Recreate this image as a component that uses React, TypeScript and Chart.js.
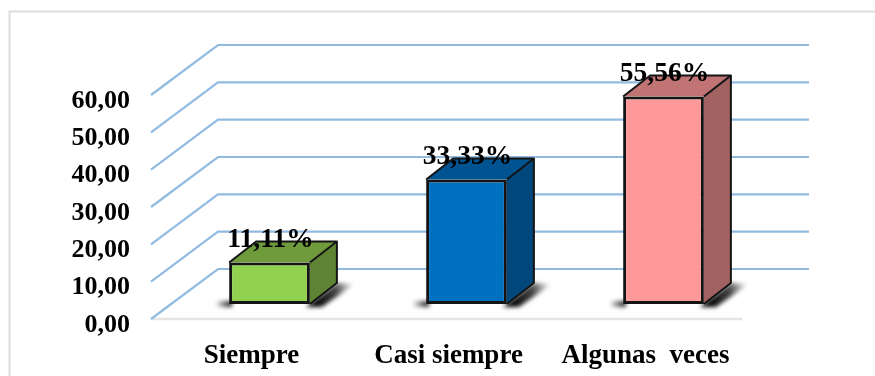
import { useEffect, useRef } from "react";
import { Chart, registerables } from "chart.js";

Chart.register(...registerables);

const categories = ["Siempre", "Casi siempre", "Algunas  veces"];
const shares = [11.11, 33.33, 55.56];
const frontColors = ["#92D050", "#0070C0", "#FF9999"];
const topColors = ["#6F9B3D", "#005391", "#C07474"];
const sideColors = ["#5E8433", "#00477C", "#A36262"];

const decimalComma = (v: number) => v.toFixed(2).replace(".", ",");

// Offsets of the pseudo-3D box: bars stand part way into the floor.
const FLOOR_FRONT = { dx: -20, dy: 15 };
const FLOOR_DEPTH = { dx: 67, dy: -50 };
const BAR_DEPTH = { dx: 27, dy: -21 };
const SERIF = "'Liberation Serif', serif";

const framePlugin = {
  id: "frame",
  beforeDraw(chart: any) {
    const { ctx, width, height } = chart;
    ctx.save();
    ctx.fillStyle = "#ffffff";
    ctx.fillRect(0, 0, width, height);
    ctx.strokeStyle = "#dcdcdc";
    ctx.lineWidth = 2;
    ctx.beginPath();
    ctx.moveTo(9.5, height);
    ctx.lineTo(9.5, 11.5);
    ctx.lineTo(width, 11.5);
    ctx.stroke();
    ctx.restore();
  },
};

const box3dPlugin = {
  id: "box3d",
  beforeDatasetsDraw(chart: any) {
    const { ctx, scales, chartArea } = chart;
    const y = scales.y;
    const frontLeft = chartArea.left + FLOOR_FRONT.dx;
    const frontRight = chartArea.right + FLOOR_FRONT.dx;
    ctx.save();

    // Floor edge
    const floorY = y.getPixelForValue(0) + FLOOR_FRONT.dy;
    ctx.strokeStyle = "#e4e4e4";
    ctx.lineWidth = 2.5;
    ctx.beginPath();
    ctx.moveTo(frontLeft, floorY);
    ctx.lineTo(frontRight, floorY);
    ctx.stroke();

    // Gridlines: diagonal on the side wall, horizontal on the back wall
    ctx.strokeStyle = "#92BBE2";
    ctx.lineWidth = 2.2;
    ctx.lineJoin = "miter";
    for (const tick of y.ticks) {
      const py = y.getPixelForValue(tick.value) + FLOOR_FRONT.dy;
      ctx.beginPath();
      ctx.moveTo(frontLeft, py);
      ctx.lineTo(frontLeft + FLOOR_DEPTH.dx, py + FLOOR_DEPTH.dy);
      ctx.lineTo(frontRight + FLOOR_DEPTH.dx, py + FLOOR_DEPTH.dy);
      ctx.stroke();
    }

    // Bar shadows and the two receding faces
    const bars = chart.getDatasetMeta(0).data;
    bars.forEach((bar: any, i: number) => {
      const left = bar.x - bar.width / 2;
      const right = bar.x + bar.width / 2;
      const top = bar.y;
      const base = bar.base;

      ctx.save();
      ctx.filter = "blur(2px)";
      const grad = ctx.createLinearGradient(right + 4, base, right + BAR_DEPTH.dx + 18, base - 8);
      grad.addColorStop(0, "rgba(0,0,0,1)");
      grad.addColorStop(0.55, "rgba(0,0,0,0.75)");
      grad.addColorStop(1, "rgba(0,0,0,0.03)");
      ctx.fillStyle = grad;
      ctx.beginPath();
      ctx.moveTo(right - 4, base + 3);
      ctx.lineTo(right + 12, base + 3);
      ctx.lineTo(right + BAR_DEPTH.dx + 18, base + BAR_DEPTH.dy + 1);
      ctx.lineTo(right + BAR_DEPTH.dx, base + BAR_DEPTH.dy);
      ctx.closePath();
      ctx.fill();
      const gradL = ctx.createLinearGradient(left - 14, base, left, base);
      gradL.addColorStop(0, "rgba(0,0,0,0)");
      gradL.addColorStop(1, "rgba(0,0,0,0.8)");
      ctx.fillStyle = gradL;
      ctx.fillRect(left - 13, base - 3, 16, 6);
      ctx.restore();

      ctx.strokeStyle = "#141414";
      ctx.lineWidth = 2;
      ctx.lineJoin = "round";

      ctx.fillStyle = topColors[i];
      ctx.beginPath();
      ctx.moveTo(left, top);
      ctx.lineTo(left + BAR_DEPTH.dx, top + BAR_DEPTH.dy);
      ctx.lineTo(right + BAR_DEPTH.dx, top + BAR_DEPTH.dy);
      ctx.lineTo(right, top);
      ctx.closePath();
      ctx.fill();

      ctx.fillStyle = sideColors[i];
      ctx.beginPath();
      ctx.moveTo(right, top);
      ctx.lineTo(right + BAR_DEPTH.dx, top + BAR_DEPTH.dy);
      ctx.lineTo(right + BAR_DEPTH.dx, base + BAR_DEPTH.dy);
      ctx.lineTo(right, base);
      ctx.closePath();
      ctx.fill();

      // Outline of both receding faces
      ctx.beginPath();
      ctx.moveTo(right, base);
      ctx.lineTo(right + BAR_DEPTH.dx, base + BAR_DEPTH.dy);
      ctx.lineTo(right + BAR_DEPTH.dx, top + BAR_DEPTH.dy);
      ctx.lineTo(left + BAR_DEPTH.dx, top + BAR_DEPTH.dy);
      ctx.lineTo(left, top);
      ctx.stroke();
      ctx.beginPath();
      ctx.moveTo(right, top);
      ctx.lineTo(right + BAR_DEPTH.dx, top + BAR_DEPTH.dy);
      ctx.stroke();
    });
    ctx.restore();
  },
  afterDatasetsDraw(chart: any) {
    const { ctx } = chart;
    const bars = chart.getDatasetMeta(0).data;
    ctx.save();
    ctx.fillStyle = "#000000";
    ctx.font = `bold 27.5px ${SERIF}`;
    ctx.textAlign = "center";
    ctx.textBaseline = "middle";
    bars.forEach((bar: any, i: number) => {
      ctx.fillText(`${decimalComma(shares[i])}%`, bar.x + 1, bar.y - 23);
    });
    ctx.restore();
  },
};

export default function App() {
  const ref = useRef<HTMLCanvasElement | null>(null);

  useEffect(() => {
    const chart = new Chart(ref.current as HTMLCanvasElement, {
      type: "bar",
      data: {
        labels: categories,
        datasets: [
          {
            data: shares,
            backgroundColor: frontColors,
            borderColor: "#141414",
            borderWidth: 3,
            borderSkipped: false,
            barPercentage: 0.41,
            categoryPercentage: 1,
          },
        ],
      },
      options: {
        responsive: false,
        animation: false,
        devicePixelRatio: 1,
        layout: { padding: { left: 0, right: 113, top: 80, bottom: 0 } },
        plugins: { legend: { display: false }, tooltip: { enabled: false } },
        scales: {
          x: {
            grid: { display: false, drawTicks: false },
            border: { display: false },
            afterFit: (s: any) => {
              s.height = 72;
            },
            ticks: {
              color: "#000000",
              font: { family: SERIF, size: 27, weight: "bold" },
              labelOffset: -18,
              padding: 36,
              maxRotation: 0,
              autoSkip: false,
            },
          },
          y: {
            min: 0,
            max: 60,
            grid: { display: false, drawTicks: false },
            border: { display: false },
            afterFit: (s: any) => {
              s.width = 171;
            },
            ticks: {
              stepSize: 10,
              color: "#000000",
              font: { family: SERIF, size: 26, weight: "bold" },
              padding: 41,
              labelOffset: 21,
              callback: (v: any) => decimalComma(Number(v)),
            },
          },
        },
      },
      plugins: [framePlugin, box3dPlugin],
    } as any);
    return () => chart.destroy();
  }, []);

  return (
    <canvas
      ref={ref}
      width={875}
      height={376}
      style={{ position: "absolute", left: 0, top: 0, display: "block" }}
    />
  );
}
